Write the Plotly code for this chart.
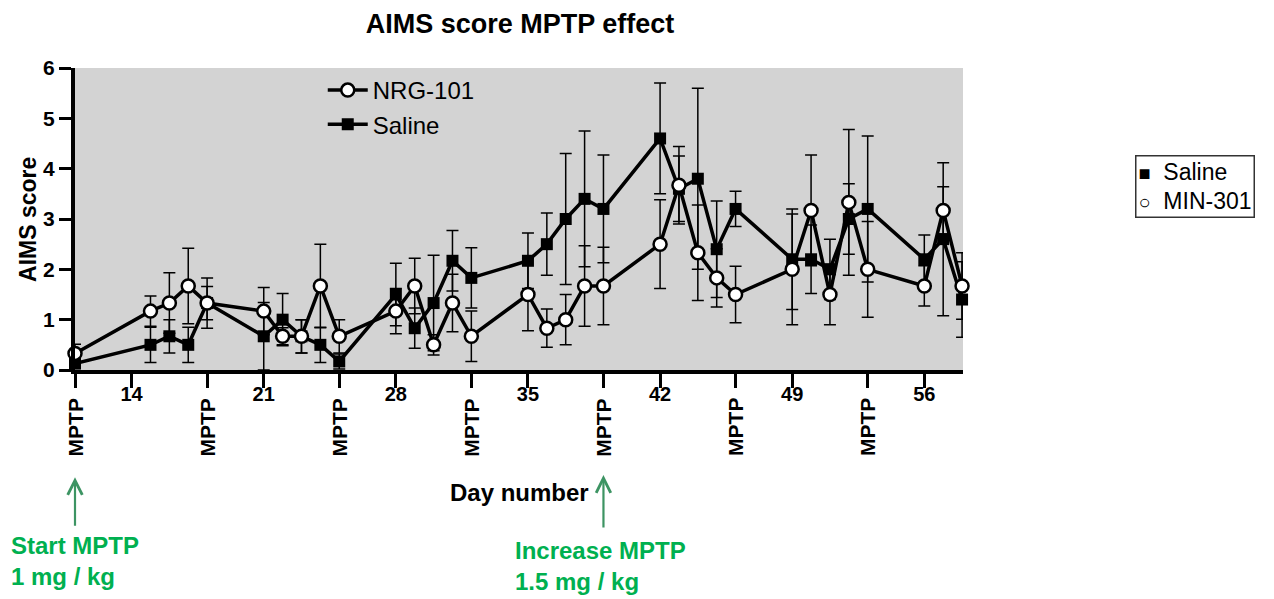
import plotly.graph_objects as go

days = [11, 15, 16, 17, 18, 21, 22, 23, 24, 25, 28, 29, 30, 31, 32, 35, 36, 37, 38, 39,
        42, 43, 44, 45, 46, 49, 50, 51, 52, 53, 56, 57, 58]
saline = [0.13, 0.5, 0.67, 0.5, 1.33, 0.67, 1.0, 0.67, 0.5, 0.17, 1.5, 0.83, 1.33, 2.17, 1.83,
          2.17, 2.5, 3.0, 3.4, 3.2, 4.6, 3.6, 3.8, 2.4, 3.2, 2.2, 2.2, 2.0, 3.0, 3.2, 2.2, 2.6, 1.4]
saline_err = [0.1, 0.35, 0.33, 0.35, 0.33, 0.67, 0.52, 0.33, 0.35, 0.15, 0.62, 0.4, 0.95, 0.6, 0.6,
              0.55, 0.62, 1.3, 1.35, 1.07, 1.1, 0.65, 1.8, 0.96, 0.35, 1.0, 0.68, 0.6, 0.7, 1.45,
              0.48, 1.52, 0.75]
nrg = [0.33, 1.17, 1.33, 1.67, 1.33, 1.17, 0.67, 0.67, 1.67, 0.67, 1.17, 1.67, 0.5, 1.33, 0.67,
       1.5, 0.83, 1.0, 1.67, 1.67, 2.5, 3.67, 2.33, 1.83, 1.5, 2.0, 3.17, 1.5, 3.33, 2.0, 1.67,
       3.17, 1.67]
nrg_err = [0.18, 0.3, 0.6, 0.75, 0.5, 0.47, 0.17, 0.33, 0.83, 0.33, 0.45, 0.55, 0.2, 0.57, 0.5,
           0.72, 0.38, 0.5, 0.8, 0.77, 0.88, 0.77, 0.95, 0.58, 0.56, 1.1, 1.1, 0.6, 1.45, 0.95,
           0.4, 0.47, 0.66]

tick_vals = [11, 14, 18, 21, 25, 28, 32, 35, 39, 42, 46, 49, 53, 56]
tick_text = ["", "14", "", "21", "", "28", "", "35", "", "42", "", "49", "", "56"]
mptp_days = [11, 18, 25, 32, 39, 46, 53]
y_ticks = [0, 1, 2, 3, 4, 5, 6]
box_labels = ["Saline", "MIN-301"]
box_symbols = ["■", "○"]

FONT = "Liberation Sans"
GREEN_TXT = "#00b050"
GREEN_ARR = "#3d9463"

fig = go.Figure()

fig.add_trace(go.Scatter(
    x=days, y=saline, name="Saline", mode="lines+markers", legendrank=2,
    line=dict(color="black", width=3.5),
    marker=dict(symbol="square", size=12, color="black"),
    error_y=dict(type="data", array=saline_err, color="black", thickness=1.5, width=6),
    cliponaxis=False,
))
fig.add_trace(go.Scatter(
    x=days, y=nrg, name="NRG-101", mode="lines+markers", legendrank=1,
    line=dict(color="black", width=3.5),
    marker=dict(symbol="circle", size=13, color="white", line=dict(color="black", width=2.5)),
    error_y=dict(type="data", array=nrg_err, color="black", thickness=1.5, width=6),
    cliponaxis=False,
))

annotations = []
for d in mptp_days:
    annotations.append(dict(
        x=d, xref="x", y=-0.19, yref="paper", text="MPTP", showarrow=False,
        textangle=-90, font=dict(family=FONT, size=21, color="black", weight="bold"),
        xanchor="center", yanchor="middle",
    ))

box_text = "<br>".join(
    f'<span style="font-size:20px">{s}</span>\u00a0\u00a0{lab}' for s, lab in zip(box_symbols, box_labels)
)

annotations += [
    dict(x=0.501, y=-0.407, xref="paper", yref="paper", text="Day number", showarrow=False,
         font=dict(family=FONT, size=24, color="black", weight="bold"),
         xanchor="center", yanchor="middle"),
    dict(x=-0.053, y=0.5, xref="paper", yref="paper", text="AIMS score", showarrow=False,
         textangle=-90, font=dict(family=FONT, size=23, color="black", weight="bold"),
         xanchor="center", yanchor="middle"),
    dict(x=11, xref="x", y=-0.355, yref="paper", text="", showarrow=True, ax=0, ay=50,
         arrowhead=5, arrowsize=1.3, arrowwidth=2.2, arrowcolor=GREEN_ARR),
    dict(x=39, xref="x", y=-0.348, yref="paper", text="", showarrow=True, ax=0, ay=54,
         arrowhead=5, arrowsize=1.3, arrowwidth=2.2, arrowcolor=GREEN_ARR),
    dict(x=-0.074, y=-0.53, xref="paper", yref="paper", text="Start MPTP<br>1 mg / kg",
         showarrow=False, align="left", xanchor="left", yanchor="top",
         font=dict(family=FONT, size=24, color=GREEN_TXT, weight="bold")),
    dict(x=0.493, y=-0.547, xref="paper", yref="paper", text="Increase MPTP<br>1.5 mg / kg",
         showarrow=False, align="left", xanchor="left", yanchor="top",
         font=dict(family=FONT, size=24, color=GREEN_TXT, weight="bold")),
    dict(x=1.1937, y=0.712, xref="paper", yref="paper", text=box_text, showarrow=False,
         align="left", xanchor="left", yanchor="top", bgcolor="white",
         bordercolor="#333333", borderwidth=1.5, borderpad=2,
         font=dict(family=FONT, size=23, color="black")),
]

fig.update_layout(
    width=1266, height=591,
    margin=dict(l=67, r=311, t=60, b=229),
    paper_bgcolor="white", plot_bgcolor="#d3d3d3",
    title=dict(text="AIMS score MPTP effect", x=0.4044, xanchor="center", y=0.974,
               yanchor="middle", font=dict(family=FONT, size=27, color="black", weight="bold")),
    font=dict(family=FONT, color="black"),
    xaxis=dict(range=[11, 58.05], tickmode="array", tickvals=tick_vals, ticktext=tick_text,
               showgrid=False, zeroline=False, showline=True, linecolor="black", linewidth=4,
               ticks="outside", ticklen=14, tickwidth=3, tickcolor="black",
               ticklabelstandoff=-11,
               tickfont=dict(family=FONT, size=20, color="black", weight="bold")),
    yaxis=dict(range=[0, 6], tickmode="array", tickvals=y_ticks,
               showgrid=False, zeroline=False, showline=True, linecolor="black", linewidth=4,
               ticks="outside", ticklen=12, tickwidth=3, tickcolor="black",
               tickfont=dict(family=FONT, size=21, color="black", weight="bold")),
    showlegend=True,
    legend=dict(x=0.279, y=1.0, xanchor="left", yanchor="top", bgcolor="rgba(0,0,0,0)",
                itemwidth=40, font=dict(family=FONT, size=24, color="black"),
                traceorder="normal"),
    annotations=annotations,
)

fig.write_html("out.html")
